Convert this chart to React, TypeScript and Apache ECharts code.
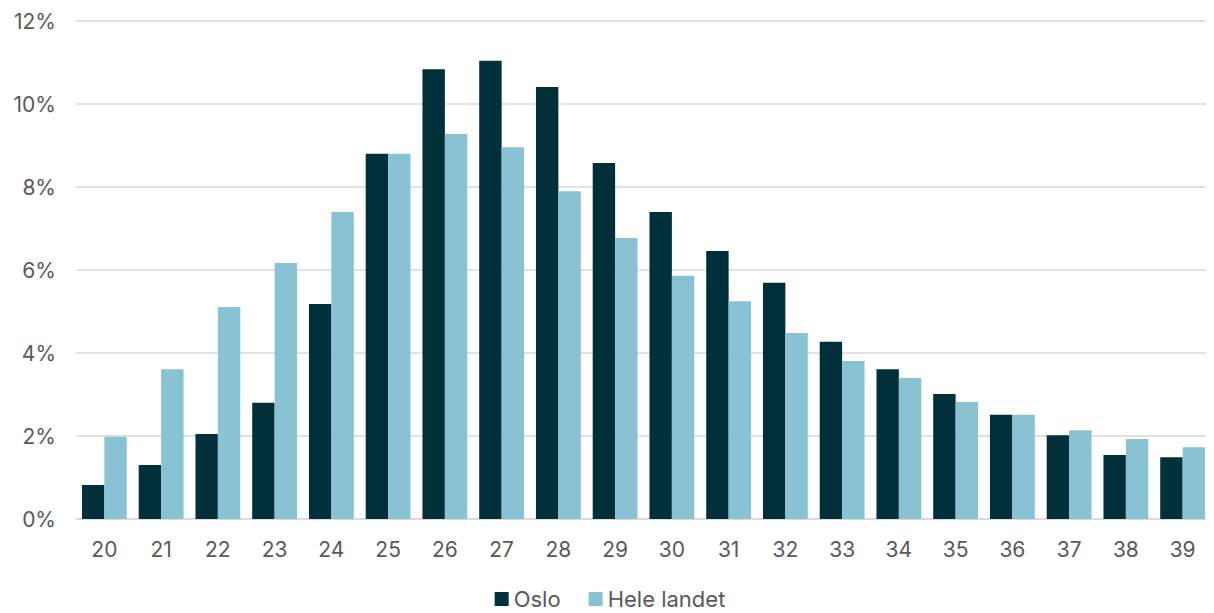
import React, { useEffect, useRef } from "react";
import * as echarts from "echarts";

const categories = ["20","21","22","23","24","25","26","27","28","29","30","31","32","33","34","35","36","37","38","39"];
const oslo = [0.82,1.30,2.05,2.80,5.18,8.80,10.84,11.04,10.41,8.58,7.40,6.46,5.69,4.27,3.61,3.01,2.51,2.02,1.54,1.49];
const heleLandet = [1.98,3.61,5.11,6.17,7.40,8.80,9.28,8.96,7.90,6.77,5.86,5.25,4.48,3.81,3.40,2.82,2.51,2.14,1.93,1.73];

export default function App() {
  const ref = useRef<HTMLDivElement>(null);
  useEffect(() => {
    if (!ref.current) return;
    const chart = echarts.init(ref.current, undefined, { renderer: "svg" });
    const font = "Inter, 'Open Sans', sans-serif";
    chart.setOption({
      animation: false,
      textStyle: { fontFamily: font },
      grid: { left: 68, right: 1, top: 13, bottom: 94 },
      legend: {
        bottom: 3,
        left: "center",
        padding: 0,
        itemWidth: 14,
        itemHeight: 14,
        itemGap: 28,
        icon: "rect",
        textStyle: { fontSize: 22, color: "#595959", fontFamily: font },
        data: ["Oslo", "Hele landet"],
      },
      xAxis: {
        type: "category",
        data: categories,
        axisTick: { show: false },
        axisLine: { lineStyle: { color: "#d9d9d9", width: 1.5 } },
        axisLabel: { fontSize: 21, color: "#595959", margin: 20, fontFamily: font },
      },
      yAxis: {
        type: "value",
        min: 0,
        max: 12,
        interval: 2,
        axisLabel: { formatter: "{value}%", fontSize: 21, color: "#595959", margin: 20, fontFamily: font },
        splitLine: { lineStyle: { color: "#d9d9d9", width: 1.5 } },
        axisLine: { show: false },
        axisTick: { show: false },
      },
      series: [
        {
          name: "Oslo",
          type: "bar",
          data: oslo,
          barGap: "0%",
          barCategoryGap: "21%",
          itemStyle: { color: "#01303a" },
        },
        {
          name: "Hele landet",
          type: "bar",
          data: heleLandet,
          itemStyle: { color: "#89c2d3" },
        },
      ],
    });
    return () => chart.dispose();
  }, []);
  return <div ref={ref} style={{ width: 1204, height: 605 }} />;
}
